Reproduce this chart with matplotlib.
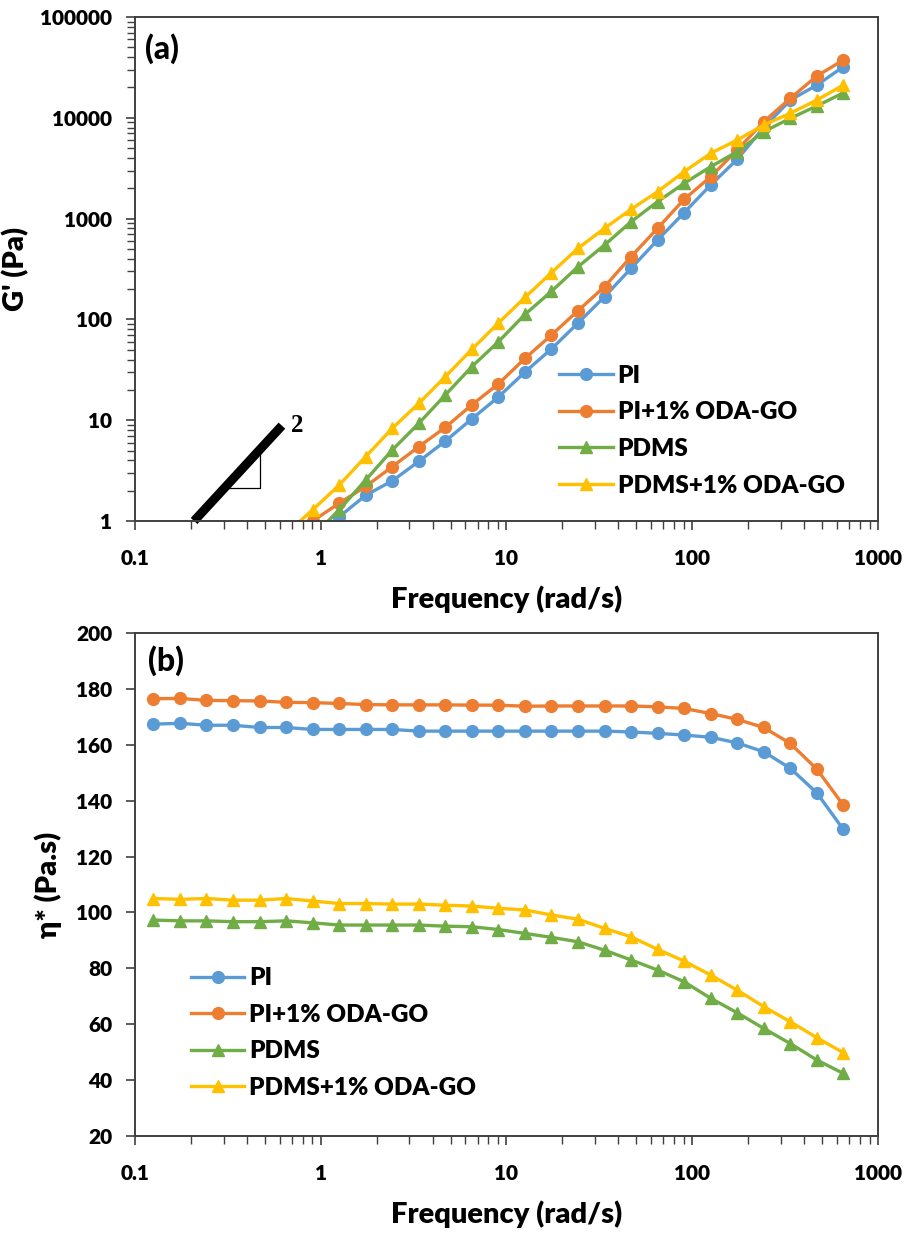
import matplotlib
matplotlib.use("Agg")
import matplotlib.pyplot as plt
from matplotlib.ticker import LogLocator, FuncFormatter, NullFormatter, MultipleLocator

plt.rcParams['font.family'] = ['Lato', 'DejaVu Sans']
plt.rcParams['font.weight'] = 'heavy'
W = 'heavy'

# angular frequency (rad/s), 7 points per decade
freq = [0.1257, 0.1746, 0.2426, 0.3371, 0.4684, 0.6508, 0.9043, 1.2566, 1.746,
        2.426, 3.371, 4.684, 6.508, 9.043, 12.566, 17.46, 24.26, 33.71, 46.84,
        65.08, 90.43, 125.66, 174.6, 242.6, 337.1, 468.4, 650.8]

# storage modulus G' (Pa), from 0.65 rad/s upward
freq_g = freq[5:]
g_pi = [0.45, 0.68, 1.1, 1.8, 2.5, 3.9, 6.2, 10.3, 17, 30, 51, 92, 168, 321,
        614, 1145, 2155, 3875, 8000, 15000, 21100, 32100]
g_pi_go = [0.55, 1.0, 1.5, 2.2, 3.46, 5.46, 8.5, 14.2, 22.9, 41, 70, 122, 211,
           419, 802, 1553, 2606, 4790, 9150, 15600, 26000, 37400]
g_pdms = [0.4, 0.7, 1.29, 2.55, 5.06, 9.3, 17.8, 34, 60, 112, 190, 333, 547,
          932, 1472, 2240, 3275, 4610, 7280, 9890, 13100, 17700]
g_pdms_go = [0.75, 1.29, 2.27, 4.35, 8.3, 14.7, 27, 50.5, 92, 165, 291, 507,
             802, 1237, 1849, 2920, 4445, 6025, 8490, 11090, 15000, 21100]

# complex viscosity eta* (Pa.s)
eta_pi = [167.4, 167.7, 167.0, 167.0, 166.2, 166.2, 165.5, 165.5, 165.5, 165.5,
          164.9, 164.9, 164.9, 164.9, 164.9, 164.9, 164.9, 164.9, 164.6, 164.1,
          163.5, 162.7, 160.7, 157.5, 151.6, 142.8, 129.7]
eta_pi_go = [176.5, 176.6, 175.9, 175.8, 175.7, 175.2, 175.1, 174.8, 174.4, 174.3,
             174.3, 174.3, 174.2, 174.2, 173.8, 173.9, 173.9, 173.9, 173.9, 173.6,
             173.0, 171.2, 169.1, 166.2, 160.5, 151.3, 138.4]
eta_pdms = [97.3, 97.0, 97.0, 96.7, 96.7, 97.0, 96.3, 95.5, 95.5, 95.5, 95.5,
            95.1, 94.9, 93.9, 92.5, 91.1, 89.5, 86.5, 83.0, 79.4, 75.2, 69.3,
            64.1, 58.5, 53.1, 47.2, 42.4]
eta_pdms_go = [105.0, 104.7, 105.0, 104.4, 104.4, 105.0, 104.1, 103.2, 103.2,
               103.0, 103.0, 102.6, 102.3, 101.5, 100.9, 99.1, 97.6, 94.3, 91.3,
               86.8, 82.6, 77.6, 72.2, 66.3, 60.9, 55.2, 49.8]

labels = ['PI', 'PI+1% ODA-GO', 'PDMS', 'PDMS+1% ODA-GO']
colors = ['#5B9BD5', '#ED7D31', '#70AD47', '#FFC000']
markers = ['o', 'o', '^', '^']

# slope-2 guide line
slope_x = [0.208, 0.618]
slope_y = [1.0, 8.83]

fig = plt.figure(figsize=(9.09, 12.34), dpi=100)
ax1 = fig.add_axes([0.1485, 0.5778, 0.8174, 0.4084])
ax2 = fig.add_axes([0.1485, 0.0794, 0.8174, 0.4076])

plain = FuncFormatter(lambda v, p: '{:g}'.format(v))


def style_axes(ax):
    for s in ax.spines.values():
        s.set_color('#404040')
        s.set_linewidth(1.4)
    ax.tick_params(which='major', direction='out', length=6.5, width=1.2,
                   color='#404040', labelsize=15, pad=10)
    ax.tick_params(which='minor', direction='out', length=5.5, width=1.0,
                   color='#404040')
    ax.tick_params(axis='x', which='major', pad=14)
    ax.set_xscale('log')
    ax.set_xlim(0.1, 1000)
    ax.xaxis.set_major_locator(LogLocator(base=10))
    ax.xaxis.set_minor_locator(LogLocator(base=10, subs=range(2, 10)))
    ax.xaxis.set_major_formatter(plain)
    ax.xaxis.set_minor_formatter(NullFormatter())
    ax.set_xlabel('Frequency (rad/s)', fontsize=21, fontweight=W, labelpad=12)


# (a) storage modulus
g_series = [g_pi, g_pi_go, g_pdms, g_pdms_go]
for ys, lab, c, m in zip(g_series, labels, colors, markers):
    ax1.plot(freq_g, ys, color=c, marker=m, markersize=8.5, linewidth=2.4, label=lab)
ax1.set_yscale('log')
ax1.set_ylim(1, 100000)
ax1.yaxis.set_major_locator(LogLocator(base=10))
ax1.yaxis.set_minor_locator(LogLocator(base=10, subs=range(2, 10)))
ax1.yaxis.set_major_formatter(plain)
ax1.yaxis.set_minor_formatter(NullFormatter())
style_axes(ax1)
ax1.set_ylabel("G' (Pa)", fontsize=21, fontweight=W, labelpad=8)

ax1.plot(slope_x, slope_y, color='black', linewidth=6.5, solid_capstyle='butt',
         clip_on=False)
ax1.plot([0.304, 0.471, 0.471], [2.13, 2.13, 4.8], color='black', linewidth=0.9)
ax1.text(0.69, 8.9, '2', fontsize=18, fontweight='bold',
         family='Liberation Serif', va='center', ha='left')
ax1.text(0.0135, 0.968, '(a)', transform=ax1.transAxes, fontsize=23,
         fontweight='black', va='top', ha='left')
ax1.legend(loc='upper left', bbox_to_anchor=(0.571, 0.31), frameon=False,
           prop={'size': 17.5, 'weight': W}, handlelength=2.2,
           handletextpad=0.2, labelspacing=0.6, borderpad=0, borderaxespad=0,
           numpoints=1)

# (b) complex viscosity
eta_series = [eta_pi, eta_pi_go, eta_pdms, eta_pdms_go]
for ys, lab, c, m in zip(eta_series, labels, colors, markers):
    ax2.plot(freq, ys, color=c, marker=m, markersize=8.5, linewidth=2.4, label=lab)
ax2.set_ylim(20, 200)
ax2.yaxis.set_major_locator(MultipleLocator(20))
style_axes(ax2)
ax2.set_ylabel('η* (Pa.s)', fontsize=21, fontweight=W, labelpad=10)
ax2.text(0.017, 0.976, '(b)', transform=ax2.transAxes, fontsize=23,
         fontweight='black', va='top', ha='left')
ax2.legend(loc='upper left', bbox_to_anchor=(0.0754, 0.336), frameon=False,
           prop={'size': 17.5, 'weight': W}, handlelength=2.2,
           handletextpad=0.2, labelspacing=0.6, borderpad=0, borderaxespad=0,
           numpoints=1)

fig.savefig('out.png', dpi=100)
